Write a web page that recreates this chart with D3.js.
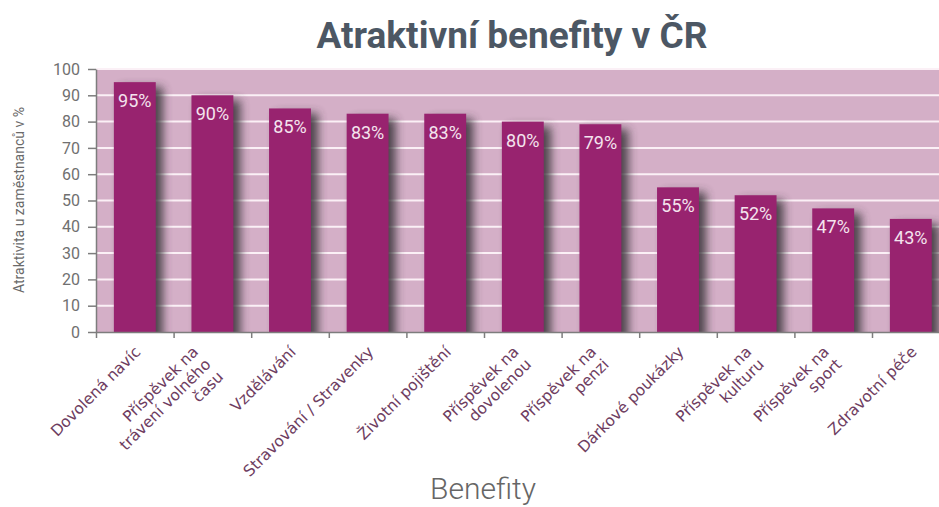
<!DOCTYPE html>
<html>
<head>
<meta charset="utf-8">
<script src="https://cdn.jsdelivr.net/npm/d3@7"></script>
<style>
  html, body { margin: 0; padding: 0; background: #ffffff; }
  svg { display: block; }
</style>
</head>
<body>
<svg id="chart" width="939" height="507"></svg>
<script>
// Benefit categories (line breaks mark wrapped axis labels)
const categories = [
  "Dovolená navíc",
  "Příspěvek na\ntrávení volného\nčasu",
  "Vzdělávání",
  "Stravování / Stravenky",
  "Životní pojištění",
  "Příspěvek na\ndovolenou",
  "Příspěvek na\npenzi",
  "Dárkové poukázky",
  "Příspěvek na\nkulturu",
  "Příspěvek na\nsport",
  "Zdravotní péče"
];
// Attractiveness among employees, in %
const values = [95, 90, 85, 83, 83, 80, 79, 55, 52, 47, 43];
const yTicks = [0, 10, 20, 30, 40, 50, 60, 70, 80, 90, 100];

const titleText = "Atraktivní benefity v ČR";
const xTitleText = "Benefity";
const yTitleText = "Atraktivita u zaměstnanců v %";

const margin = { left: 96, top: 69, bottom: 332 };
const step = 77.6;
const plotRight = margin.left + step * categories.length;

const svg = d3.select("#chart");
const defs = svg.append("defs");

defs.append("filter")
  .attr("id", "barShadow")
  .attr("x", "-50%").attr("y", "-20%")
  .attr("width", "200%").attr("height", "140%")
  .append("feGaussianBlur").attr("stdDeviation", 5);

defs.append("clipPath").attr("id", "plotClip")
  .append("rect")
  .attr("x", margin.left).attr("y", margin.top)
  .attr("width", plotRight - margin.left)
  .attr("height", margin.bottom - margin.top);

const x = d3.scaleBand()
  .domain(d3.range(categories.length))
  .range([margin.left, plotRight])
  .paddingInner(0.46)
  .paddingOuter(0.23);

// category boundaries for the bottom tick marks
const xEdge = d3.scaleLinear()
  .domain([0, categories.length])
  .range([margin.left, plotRight]);

const y = d3.scaleLinear()
  .domain([0, 100])
  .range([margin.bottom, margin.top]);

// plot background
svg.append("rect")
  .attr("x", margin.left).attr("y", margin.top)
  .attr("width", plotRight - margin.left)
  .attr("height", margin.bottom - margin.top)
  .attr("fill", "#d4afc7");

// horizontal gridlines
svg.append("g")
  .selectAll("line")
  .data(yTicks.filter(d => d > 0))
  .join("line")
  .attr("x1", margin.left).attr("x2", plotRight)
  .attr("y1", d => y(d)).attr("y2", d => y(d))
  .attr("stroke", "#fbf0f6")
  .attr("stroke-width", 2);

// soft shadows to the right of each bar
svg.append("g")
  .attr("clip-path", "url(#plotClip)")
  .selectAll("rect")
  .data(values)
  .join("rect")
  .attr("x", (d, i) => x(i) + 7)
  .attr("y", d => y(d) + 5)
  .attr("width", x.bandwidth())
  .attr("height", d => y(0) - y(d) + 10)
  .attr("fill", "#3e383c")
  .attr("opacity", 0.9)
  .attr("filter", "url(#barShadow)");

// bars
svg.append("g")
  .selectAll("rect")
  .data(values)
  .join("rect")
  .attr("x", (d, i) => x(i))
  .attr("y", d => y(d))
  .attr("width", x.bandwidth())
  .attr("height", d => y(0) - y(d))
  .attr("fill", "#98236f");

// value labels inside the bars
svg.append("g")
  .selectAll("text")
  .data(values)
  .join("text")
  .attr("x", (d, i) => x(i) + x.bandwidth() / 2)
  .attr("y", d => y(d) + 25)
  .attr("text-anchor", "middle")
  .attr("font-family", "Roboto, sans-serif")
  .attr("font-size", 18)
  .attr("fill", "#f4e4ee")
  .text(d => d + "%");

// y axis
const yAxis = svg.append("g")
  .attr("transform", `translate(${margin.left},0)`)
  .call(d3.axisLeft(y).tickValues(yTicks).tickSize(8).tickPadding(8).tickSizeOuter(0));
yAxis.select(".domain").attr("stroke", "#7d7d7d").attr("stroke-width", 1.5);
yAxis.selectAll(".tick line").attr("stroke", "#7d7d7d").attr("stroke-width", 1.5);
yAxis.selectAll(".tick text")
  .attr("font-family", "Roboto, sans-serif")
  .attr("font-size", 16)
  .attr("fill", "#707070");

// x axis with ticks on category boundaries
const xAxis = svg.append("g")
  .attr("transform", `translate(0,${margin.bottom})`)
  .call(d3.axisBottom(xEdge).tickValues(d3.range(categories.length + 1)).tickSize(6).tickFormat("").tickSizeOuter(0));
xAxis.select(".domain").attr("stroke", "#7d7d7d").attr("stroke-width", 1.5);
xAxis.selectAll(".tick line").attr("stroke", "#7d7d7d").attr("stroke-width", 1.5);

// rotated category labels, right aligned, wrapped lines stacked
const lineGap = 17.7;
const catLabels = svg.append("g")
  .selectAll("g")
  .data(categories)
  .join("g")
  .attr("transform", (d, i) => {
    const n = d.split("\n").length;
    const cx = x(i) + x.bandwidth() / 2;
    return `translate(${cx + 3 - 10 * (n - 1)},${margin.bottom + 17}) rotate(-45)`;
  });
catLabels.selectAll("text")
  .data(d => d.split("\n"))
  .join("text")
  .attr("x", 0)
  .attr("y", (d, j) => j * lineGap)
  .attr("dy", "0.35em")
  .attr("text-anchor", "end")
  .attr("font-family", "'DejaVu Sans', sans-serif")
  .attr("font-size", 15.5)
  .attr("fill", "#6e3d61")
  .text(d => d);

// chart title
svg.append("text")
  .attr("x", 512).attr("y", 48)
  .attr("text-anchor", "middle")
  .attr("font-family", "Roboto, sans-serif")
  .attr("font-weight", "bold")
  .attr("font-size", 37)
  .attr("fill", "#4c5764")
  .text(titleText);

// x axis title
svg.append("text")
  .attr("x", 483).attr("y", 499)
  .attr("text-anchor", "middle")
  .attr("font-family", "Roboto, sans-serif")
  .attr("font-weight", 300)
  .attr("font-size", 30)
  .attr("fill", "#666666")
  .text(xTitleText);

// y axis title
svg.append("text")
  .attr("transform", "translate(24,200) rotate(-90)")
  .attr("text-anchor", "middle")
  .attr("font-family", "Roboto, sans-serif")
  .attr("font-size", 14)
  .attr("fill", "#6a6a6a")
  .text(yTitleText);
</script>
</body>
</html>
